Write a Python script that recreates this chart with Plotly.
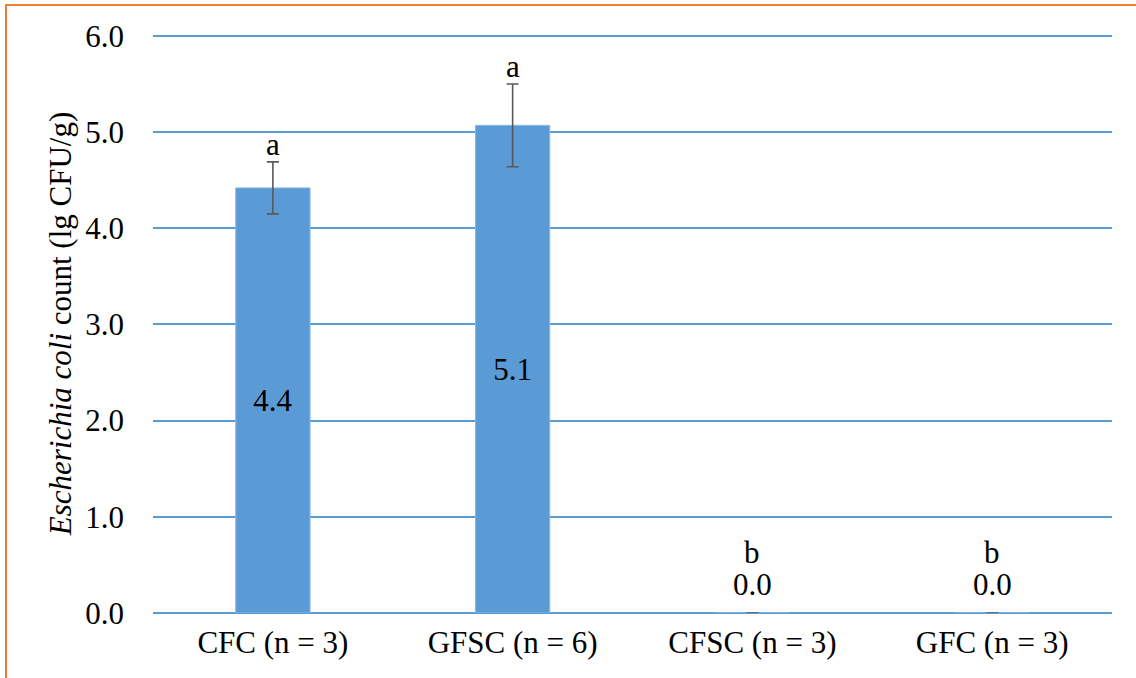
import plotly.graph_objects as go

# Data
groups = ["CFC (n = 3)", "GFSC (n = 6)", "CFSC (n = 3)", "GFC (n = 3)"]
counts = [4.42, 5.07, 0.0, 0.0]
sd = [0.27, 0.43, 0.0, 0.0]
letters = ["a", "a", "b", "b"]

FONT = "Liberation Serif, Times New Roman, serif"
FS = 31
BLUE = "#5B9BD5"

W, H = 1136, 678
ml, mr, mt, mb = 153, 24, 34, 65

fig = go.Figure()
fig.add_trace(go.Bar(
    x=groups,
    y=counts,
    width=0.31,
    marker=dict(color=BLUE, line=dict(color="#8DB7E3", width=1)),
    error_y=dict(type="data", array=sd, visible=True,
                 color="#595959", thickness=1.6, width=6),
    text=[f"{v:.1f}" if v > 0 else "" for v in counts],
    textposition="inside",
    insidetextanchor="middle",
    textangle=0,
    textfont=dict(family=FONT, size=FS, color="black"),
    cliponaxis=False,
    hoverinfo="skip",
))

annotations = []
for g, v, e, lt in zip(groups, counts, sd, letters):
    if v > 0:
        annotations.append(dict(x=g, y=v + e, text=lt, showarrow=False,
                                yanchor="bottom", yshift=-2,
                                font=dict(family=FONT, size=FS, color="black")))
    else:
        annotations.append(dict(x=g, y=v, text=f"{v:.1f}", showarrow=False,
                                yanchor="bottom", yshift=9,
                                font=dict(family=FONT, size=FS, color="black")))
        annotations.append(dict(x=g, y=v, text=lt, showarrow=False,
                                yanchor="bottom", yshift=41,
                                font=dict(family=FONT, size=FS, color="black")))

pw = W - ml - mr
ph = H - mt - mb
# orange frame around the whole figure (runs past the right and bottom edges)
frame = dict(type="rect", xref="paper", yref="paper",
             x0=(6 - ml) / pw, x1=(W + 10 - ml) / pw,
             y0=(H - 690 - mb) / ph, y1=(H - 5 - mb) / ph,
             line=dict(color="#ED7D31", width=2), fillcolor="rgba(0,0,0,0)",
             layer="above")

fig.update_layout(
    width=W, height=H,
    margin=dict(l=ml, r=mr, t=mt, b=mb),
    paper_bgcolor="white", plot_bgcolor="white",
    showlegend=False,
    font=dict(family=FONT, size=FS, color="black"),
    annotations=annotations,
    shapes=[frame],
    xaxis=dict(showgrid=False, showline=False, ticks="",
               tickfont=dict(family=FONT, size=FS), ticklabelstandoff=8),
    yaxis=dict(range=[0, 6.02], tickvals=[0, 1, 2, 3, 4, 5, 6], tickformat=".1f",
               showgrid=True, gridcolor=BLUE, gridwidth=1.5,
               zeroline=True, zerolinecolor=BLUE, zerolinewidth=1.5,
               showline=False, ticks="", ticklabelstandoff=28,
               tickfont=dict(family=FONT, size=FS),
               title=dict(text="<i>Escherichia coli</i> count (lg CFU/g)",
                          font=dict(family=FONT, size=FS), standoff=4)),
)

fig.write_html("out.html")
